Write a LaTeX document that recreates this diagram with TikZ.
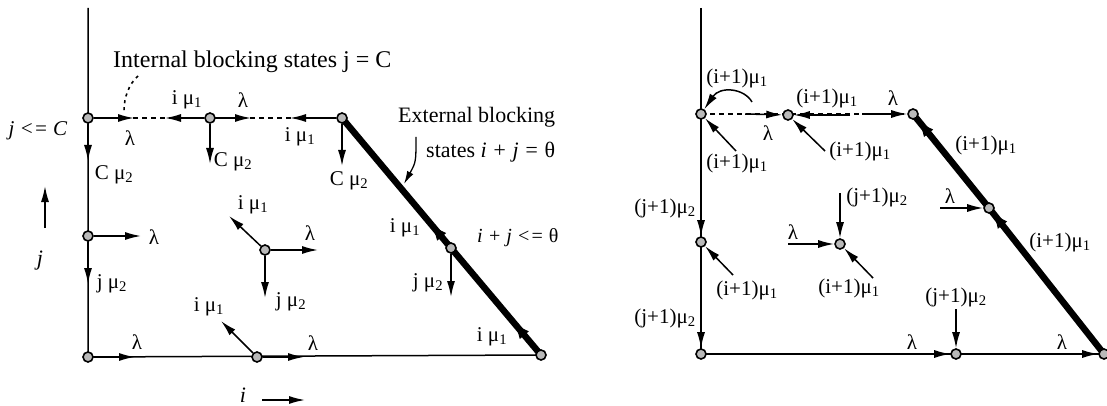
\documentclass[tikz,border=0pt]{standalone}
\usepackage{fontspec}
\setmainfont{Liberation Serif}
\usetikzlibrary{arrows.meta,calc}
\pgfdeclarelayer{bg}
\pgfsetlayers{bg,main}
\begin{document}
\begin{tikzpicture}[x=1pt,y=-1pt,
  state/.style={circle,draw=black,line width=1.6pt,fill=gray!55,inner sep=0pt,minimum size=10pt},
  lbl/.style={inner sep=0pt,font=\fontsize{21}{23}\selectfont},
  note/.style={inner sep=0pt,font=\fontsize{22}{25}\selectfont},
  edge/.style={line width=1.5pt},
  arr/.style={line width=1.5pt,-{Latex[length=16pt,width=8pt]}},
  dline/.style={line width=1.8pt,dash pattern=on 5pt off 4pt},
  blockline/.style={line width=6.5pt,line cap=round},
  darr/.style={line width=1pt,-{Latex[length=16pt,width=12pt]}},
  carr/.style={line width=1.3pt,-{Latex[length=13pt,width=7pt]}}
]
\useasboundingbox (0,0) rectangle (1107,406);

% ---------------- left diagram ----------------
\node[state] (L1) at (88,118) {};
\node[state] (L2) at (210,118) {};
\node[state] (L3) at (342,118) {};
\node[state] (L4) at (88,236) {};
\node[state] (L5) at (265,250) {};
\node[state] (L6) at (451,248) {};
\node[state] (L7) at (541,355) {};
\node[state] (L8) at (88,357) {};
\node[state] (L9) at (257,357) {};
\coordinate (Ltop) at (88,8);

\begin{pgfonlayer}{bg}
  \draw[edge] (Ltop) -- (L8.center) -- (L7.center);
  \draw[dline] (L1.center) -- (L3.center);
  \draw[blockline] (L3.center) -- (L6.center) -- (L7.center);
\end{pgfonlayer}

% top line transitions
\coordinate (t1) at (134,118); \draw[arr] (L1) -- (t1);
\coordinate (t2) at (165,118); \draw[arr] (L2) -- (t2);
\coordinate (t3) at (251,118); \draw[arr] (L2) -- (t3);
\coordinate (t4) at (290,118); \draw[arr] (L3) -- (t4);
\coordinate (d1) at (88,161);  \draw[arr] (L1) -- (d1);
\coordinate (d2) at (210,164); \draw[arr] (L2) -- (d2);
\coordinate (d3) at (342,166); \draw[arr] (L3) -- (d3);
\node[lbl] (lb1) at (130,138) {λ};
\node[lbl] (lb2) at (187,100) {i μ\textsubscript{1}};
\node[lbl] (lb3) at (243,100) {λ};
\node[lbl] (lb4) at (300,137) {i μ\textsubscript{1}};
\node[lbl] (lb5) at (114,175) {C μ\textsubscript{2}};
\node[lbl] (lb6) at (233,162) {C μ\textsubscript{2}};
\node[lbl] (lb7) at (349,181) {C μ\textsubscript{2}};

% annotations
\node[note,anchor=west,font=\fontsize{24}{26}\selectfont] (intl) at (113,62) {Internal blocking states j = C};
\coordinate (ibs) at (138,76); \coordinate (ibe) at (124,111);
\draw[line width=1.6pt,dash pattern=on 3pt off 4pt] (ibs) .. controls (129,84) and (124,97) .. (ibe);
\node[note,anchor=west] (ext1) at (398,117) {External blocking};
\node[note,anchor=west] (ext2) at (426,152) {states \textit{i + j =} θ};
\coordinate (ea1) at (416,137); \coordinate (ea2) at (404,184);
\draw[carr] (ea1) .. controls (416,162) .. (ea2);
\node[note,anchor=west,font=\fontsize{20}{22}\selectfont] (cond) at (477,238) {\textit{i + j <=} θ};
\node[note,font=\fontsize{21}{23}\selectfont] (jc) at (38,131) {\textit{j <= C}};

% diagonal transitions
\coordinate (g1) at ($(L6)!0.18!(L3)$); \draw[darr] (L6) -- (g1);
\coordinate (g2) at ($(L7)!0.3!(L6)$);  \draw[darr] (L7) -- (g2);
\coordinate (d6) at (451,297); \draw[arr] (L6) -- (d6);
\node[lbl] (lb8) at (405,228) {i μ\textsubscript{1}};
\node[lbl] (lb9) at (428,283) {j μ\textsubscript{2}};
\node[lbl] (lb10) at (492,337) {i μ\textsubscript{1}};

% left axis node
\coordinate (r4) at (141,236); \draw[arr] (L4) -- (r4);
\coordinate (d4) at (88,284);  \draw[arr] (L4) -- (d4);
\node[lbl] (lb11) at (154,237) {λ};
\node[lbl] (lb12) at (112,284) {j μ\textsubscript{2}};

% interior node
\coordinate (u5) at (229,216); \draw[arr] (L5) -- (u5);
\coordinate (r5) at (318,250); \draw[arr] (L5) -- (r5);
\coordinate (d5) at (265,298); \draw[arr] (L5) -- (d5);
\node[lbl] (lb13) at (253,205) {i μ\textsubscript{1}};
\node[lbl] (lb14) at (310,233) {λ};
\node[lbl] (lb15) at (291,302) {j μ\textsubscript{2}};

% bottom nodes
\coordinate (r8) at (135,357); \draw[arr] (L8) -- (r8);
\coordinate (u9) at (221,321); \draw[arr] (L9) -- (u9);
\coordinate (r9) at (304,357); \draw[arr] (L9) -- (r9);
\node[lbl] (lb16) at (137,342) {λ};
\node[lbl] (lb17) at (209,307) {i μ\textsubscript{1}};
\node[lbl] (lb18) at (313,343) {λ};

% axis direction indicators
\coordinate (ja) at (45,228); \coordinate (jb) at (45,186); \draw[arr] (ja) -- (jb);
\node[note] (jl) at (40,261) {\textit{j}};
\coordinate (ia) at (262,400); \coordinate (ib) at (305,400); \draw[arr] (ia) -- (ib);
\node[note] (il) at (243,395) {\textit{i}};

% ---------------- right diagram ----------------
\node[state] (R1) at (701,114) {};
\node[state] (R2) at (788,115) {};
\node[state] (R3) at (913,114) {};
\node[state] (R4) at (701,242) {};
\node[state] (R5) at (840,244) {};
\node[state] (R6) at (989,208) {};
\node[state] (R7) at (1104,354) {};
\node[state] (R8) at (701,354) {};
\node[state] (R9) at (956,354) {};
\coordinate (Rtop) at (701,8);

\begin{pgfonlayer}{bg}
  \draw[edge] (Rtop) -- (R8.center) -- (R7.center);
  \draw[dline] (R1.center) -- (R3.center);
  \draw[blockline] (R3.center) -- (R6.center) -- (R7.center);
\end{pgfonlayer}

% top row
\coordinate (s1) at (745,114); \draw[arr] (s1) -- (R2);
\coordinate (s2) at (850,115); \draw[arr] (s2) -- (R2);
\coordinate (s3) at (862,114); \draw[arr] (s3) -- (R3);
\coordinate (c1) at (752,102); \draw[arr] (c1) .. controls (744,88) and (720,86) .. (R1);
\coordinate (c2) at (736,151); \draw[arr] (c2) -- (R1);
\coordinate (c3) at (825,151); \draw[arr] (c3) -- (R2);
\node[lbl] (rl1) at (737,78) {(i+1)μ\textsubscript{1}};
\node[lbl] (rl2) at (737,163) {(i+1)μ\textsubscript{1}};
\node[lbl] (rl3) at (768,133) {λ};
\node[lbl] (rl4) at (827,98) {(i+1)μ\textsubscript{1}};
\node[lbl] (rl5) at (860,151) {(i+1)μ\textsubscript{1}};
\node[lbl] (rl6) at (893,98) {λ};

% diagonal
\coordinate (c4) at ($(R3)!0.5!(R6)$); \draw[darr,shorten >=3pt] (c4) -- (R3);
\coordinate (c5) at ($(R6)!0.3!(R7)$); \draw[darr] (c5) -- (R6);
\coordinate (c6) at (940,208); \draw[arr] (c6) -- (R6);
\node[lbl] (rl7) at (986,145) {(i+1)μ\textsubscript{1}};
\node[lbl] (rl8) at (1060,242) {(i+1)μ\textsubscript{1}};
\node[lbl] (rl9) at (950,196) {λ};

% left axis
\coordinate (c7) at (701,196); \draw[arr] (c7) -- (R4);
\coordinate (c8) at (733,275); \draw[arr] (c8) -- (R4);
\coordinate (c9) at (701,308); \draw[arr] (c9) -- (R8);
\node[lbl] (rl10) at (665,208) {(j+1)μ\textsubscript{2}};
\node[lbl] (rl11) at (747,290) {(i+1)μ\textsubscript{1}};
\node[lbl] (rl12) at (665,318) {(j+1)μ\textsubscript{2}};

% interior node
\coordinate (c10) at (840,193); \draw[arr] (c10) -- (R5);
\coordinate (c11) at (788,244); \draw[arr] (c11) -- (R5);
\coordinate (c12) at (873,278); \draw[arr] (c12) -- (R5);
\node[lbl] (rl13) at (877,197) {(j+1)μ\textsubscript{2}};
\node[lbl] (rl14) at (793,232) {λ};
\node[lbl] (rl15) at (849,288) {(i+1)μ\textsubscript{1}};

% bottom row
\coordinate (c13) at (956,309); \draw[arr] (c13) -- (R9);
\draw[arr] (R8) -- (R9);
\draw[arr] (R9) -- (R7);
\node[lbl] (rl16) at (956,297) {(j+1)μ\textsubscript{2}};
\node[lbl] (rl17) at (912,342) {λ};
\node[lbl] (rl18) at (1062,342) {λ};
\end{tikzpicture}
\end{document}
